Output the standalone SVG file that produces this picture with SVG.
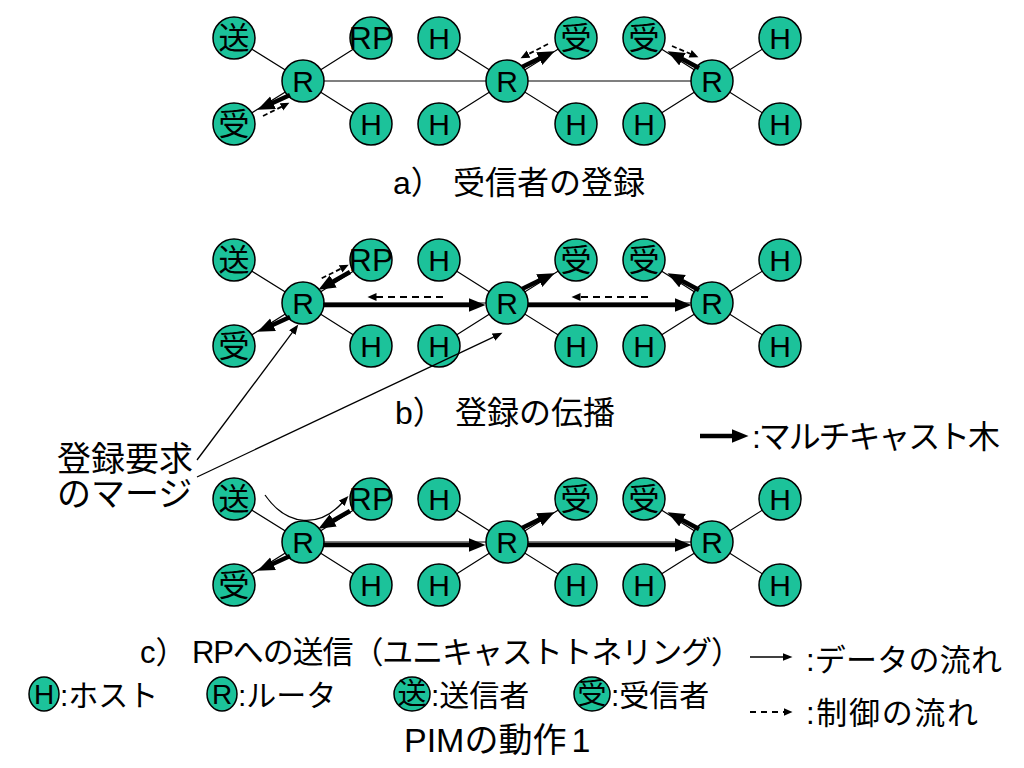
<svg xmlns="http://www.w3.org/2000/svg" width="1024" height="768" viewBox="0 0 1024 768">
<defs>
<style>
.n circle,.n ellipse{fill:#1cc29a;stroke:#000;stroke-width:1.5}
.lt{font-family:"Liberation Sans",Arial,sans-serif;font-size:30px;text-anchor:middle;fill:#000}
.jt{font-family:"Noto Sans CJK JP",sans-serif;font-size:31px;text-anchor:middle;fill:#000}
.lk{stroke:#000;stroke-width:1.2;fill:none}
.tk{stroke:#000;stroke-width:4.5;fill:none;marker-end:url(#hk)}
.ds{stroke:#000;stroke-width:1.8;fill:none;stroke-dasharray:7 5;marker-end:url(#hd)}
.dss{stroke:#000;stroke-width:1.8;fill:none;stroke-dasharray:5 3;marker-end:url(#hd)}
.an{stroke:#000;stroke-width:1.3;fill:none;marker-end:url(#ha)}
.tx{font-family:"Liberation Sans","Noto Sans CJK JP",sans-serif;font-size:32px;fill:#000}
.lg{font-family:"Liberation Sans","Noto Sans CJK JP",sans-serif;font-size:30px;fill:#000}
</style>
<marker id="hk" markerUnits="userSpaceOnUse" markerWidth="18" markerHeight="15" refX="3.5" refY="7" orient="auto"><path d="M0,0 L17,7 L0,14 z" fill="#000"/></marker>
<marker id="hd" markerUnits="userSpaceOnUse" markerWidth="10" markerHeight="9" refX="0.5" refY="4" orient="auto"><path d="M0,0 L9,4 L0,8 z" fill="#000"/></marker>
<marker id="ha" markerUnits="userSpaceOnUse" markerWidth="11" markerHeight="9" refX="0.5" refY="4" orient="auto"><path d="M0,0 L10,4 L0,8 z" fill="#000"/></marker>
</defs>
<rect width="1024" height="768" fill="#fff"/>

<!-- ROW A -->
<g id="row-a">
<g id="a-links">
<path class="lk" d="M234,38 L303,81 M234,124 L303,81 M371,38 L303,81 M371,124 L303,81 M303,81 L507,81 M439,38 L507,81 M439,124 L507,81 M576,38 L507,81 M576,124 L507,81 M507,81 L712,81 M644,38 L712,81 M644,124 L712,81 M780,38 L712,81 M780,124 L712,81"/>
</g>
<g id="a-snd" class="n" transform="translate(234,38)"><circle r="21"/><text class="jt" y="11">送</text></g>
<g id="a-rcv1" class="n" transform="translate(234,124)"><circle r="21"/><text class="jt" y="11">受</text></g>
<g id="a-r1" class="n" transform="translate(303,81)"><circle r="21"/><text class="lt" y="11">R</text></g>
<g id="a-rp" class="n" transform="translate(371,38)"><circle r="21"/><text class="lt" y="11" style="font-size:32px">RP</text></g>
<g id="a-h1" class="n" transform="translate(371,124)"><circle r="21"/><text class="lt" y="11">H</text></g>
<g id="a-h2" class="n" transform="translate(439,38)"><circle r="21"/><text class="lt" y="11">H</text></g>
<g id="a-h3" class="n" transform="translate(439,124)"><circle r="21"/><text class="lt" y="11">H</text></g>
<g id="a-r2" class="n" transform="translate(507,81)"><circle r="21"/><text class="lt" y="11">R</text></g>
<g id="a-rcv2" class="n" transform="translate(576,38)"><circle r="21"/><text class="jt" y="11">受</text></g>
<g id="a-h4" class="n" transform="translate(576,124)"><circle r="21"/><text class="lt" y="11">H</text></g>
<g id="a-rcv3" class="n" transform="translate(644,38)"><circle r="21"/><text class="jt" y="11">受</text></g>
<g id="a-h5" class="n" transform="translate(644,124)"><circle r="21"/><text class="lt" y="11">H</text></g>
<g id="a-r3" class="n" transform="translate(712,81)"><circle r="21"/><text class="lt" y="11">R</text></g>
<g id="a-h6" class="n" transform="translate(780,38)"><circle r="21"/><text class="lt" y="11">H</text></g>
<g id="a-h7" class="n" transform="translate(780,124)"><circle r="21"/><text class="lt" y="11">H</text></g>
<g id="a-arrows">
<path class="tk" d="M290,95 L269.8,104.2"/>
<path class="dss" d="M263,116 L281.8,106.6"/>
<path class="tk" d="M522,67 L542.4,57.1"/>
<path class="dss" d="M548,44 L528.1,54.3"/>
<path class="tk" d="M699,68 L679.4,57.6"/>
<path class="dss" d="M672,46 L690.6,53.9"/>
</g>
</g>
<text class="tx" y="194"><tspan x="393">a） </tspan><tspan x="453">受信者の登録</tspan></text>

<!-- ROW B -->
<g id="row-b" transform="translate(0,222)">
<g id="b-links">
<path class="lk" d="M234,38 L303,81 M234,124 L303,81 M371,38 L303,81 M371,124 L303,81 M303,81 L507,81 M439,38 L507,81 M439,124 L507,81 M576,38 L507,81 M576,124 L507,81 M507,81 L712,81 M644,38 L712,81 M644,124 L712,81 M780,38 L712,81 M780,124 L712,81"/>
</g>
<g id="b-snd" class="n" transform="translate(234,38)"><circle r="21"/><text class="jt" y="11">送</text></g>
<g id="b-rcv1" class="n" transform="translate(234,124)"><circle r="21"/><text class="jt" y="11">受</text></g>
<g id="b-r1" class="n" transform="translate(303,81)"><circle r="21"/><text class="lt" y="11">R</text></g>
<g id="b-rp" class="n" transform="translate(371,38)"><circle r="21"/><text class="lt" y="11" style="font-size:32px">RP</text></g>
<g id="b-h1" class="n" transform="translate(371,124)"><circle r="21"/><text class="lt" y="11">H</text></g>
<g id="b-h2" class="n" transform="translate(439,38)"><circle r="21"/><text class="lt" y="11">H</text></g>
<g id="b-h3" class="n" transform="translate(439,124)"><circle r="21"/><text class="lt" y="11">H</text></g>
<g id="b-r2" class="n" transform="translate(507,81)"><circle r="21"/><text class="lt" y="11">R</text></g>
<g id="b-rcv2" class="n" transform="translate(576,38)"><circle r="21"/><text class="jt" y="11">受</text></g>
<g id="b-h4" class="n" transform="translate(576,124)"><circle r="21"/><text class="lt" y="11">H</text></g>
<g id="b-rcv3" class="n" transform="translate(644,38)"><circle r="21"/><text class="jt" y="11">受</text></g>
<g id="b-h5" class="n" transform="translate(644,124)"><circle r="21"/><text class="lt" y="11">H</text></g>
<g id="b-r3" class="n" transform="translate(712,81)"><circle r="21"/><text class="lt" y="11">R</text></g>
<g id="b-h6" class="n" transform="translate(780,38)"><circle r="21"/><text class="lt" y="11">H</text></g>
<g id="b-h7" class="n" transform="translate(780,124)"><circle r="21"/><text class="lt" y="11">H</text></g>
<g id="b-arrows">
<path class="tk" d="M290,95 L269.8,104.2"/>
<path class="tk" d="M350,50 L330.2,61.1"/>
<path class="dss" d="M321.7,56.3 L341.1,46.6"/>
<path class="tk" d="M323,83 L472,83"/>
<path class="ds" d="M443,75 L376,75"/>
<path class="tk" d="M528,83 L678,83"/>
<path class="ds" d="M648,75 L580,75"/>
<path class="tk" d="M522,67 L542.4,57.1"/>
<path class="tk" d="M699,68 L679.4,57.6"/>
</g>
</g>
<text class="tx" y="424"><tspan x="395">b） </tspan><tspan x="455">登録の伝播</tspan></text>

<!-- ROW C -->
<g id="row-c" transform="translate(0,461)">
<g id="c-links">
<path class="lk" d="M234,38 L303,81 M234,124 L303,81 M371,38 L303,81 M371,124 L303,81 M303,81 L507,81 M439,38 L507,81 M439,124 L507,81 M576,38 L507,81 M576,124 L507,81 M507,81 L712,81 M644,38 L712,81 M644,124 L712,81 M780,38 L712,81 M780,124 L712,81"/>
</g>
<g id="c-snd" class="n" transform="translate(234,38)"><circle r="21"/><text class="jt" y="11">送</text></g>
<g id="c-rcv1" class="n" transform="translate(234,124)"><circle r="21"/><text class="jt" y="11">受</text></g>
<g id="c-r1" class="n" transform="translate(303,81)"><circle r="21"/><text class="lt" y="11">R</text></g>
<g id="c-rp" class="n" transform="translate(371,38)"><circle r="21"/><text class="lt" y="11" style="font-size:32px">RP</text></g>
<g id="c-h1" class="n" transform="translate(371,124)"><circle r="21"/><text class="lt" y="11">H</text></g>
<g id="c-h2" class="n" transform="translate(439,38)"><circle r="21"/><text class="lt" y="11">H</text></g>
<g id="c-h3" class="n" transform="translate(439,124)"><circle r="21"/><text class="lt" y="11">H</text></g>
<g id="c-r2" class="n" transform="translate(507,81)"><circle r="21"/><text class="lt" y="11">R</text></g>
<g id="c-rcv2" class="n" transform="translate(576,38)"><circle r="21"/><text class="jt" y="11">受</text></g>
<g id="c-h4" class="n" transform="translate(576,124)"><circle r="21"/><text class="lt" y="11">H</text></g>
<g id="c-rcv3" class="n" transform="translate(644,38)"><circle r="21"/><text class="jt" y="11">受</text></g>
<g id="c-h5" class="n" transform="translate(644,124)"><circle r="21"/><text class="lt" y="11">H</text></g>
<g id="c-r3" class="n" transform="translate(712,81)"><circle r="21"/><text class="lt" y="11">R</text></g>
<g id="c-h6" class="n" transform="translate(780,38)"><circle r="21"/><text class="lt" y="11">H</text></g>
<g id="c-h7" class="n" transform="translate(780,124)"><circle r="21"/><text class="lt" y="11">H</text></g>
<g id="c-arrows">
<path class="tk" d="M290,95 L269.8,104.2"/>
<path class="tk" d="M350,50 L330.2,61.1"/>
<path class="an" d="M265,34 C288,67 320,66 342,42"/>
<path class="tk" d="M323,84 L472,84"/>
<path class="tk" d="M528,84 L678,84"/>
<path class="tk" d="M522,67 L542.4,57.1"/>
<path class="tk" d="M699,68 L679.4,57.6"/>
</g>
</g>
<text class="tx" y="663" style="font-size:31px"><tspan x="140">c） </tspan><tspan x="192" textLength="550" lengthAdjust="spacing">RPへの送信（ユニキャストトネリング）</tspan></text>

<!-- annotation -->
<g id="merge-note">
<text class="tx" style="font-size:34px"><tspan x="57" y="471">登録要求</tspan><tspan x="57" y="506">のマージ</tspan></text>
</g>
<g id="note-arrows">
<path class="an" d="M197,460 L292.6,332.2"/>
<path class="an" d="M197,477 L493.9,336.8"/>
</g>

<!-- legend right -->
<g id="legend-right">
<path class="tk" d="M700,436 L735,436"/>
<text class="tx" x="752" y="448" textLength="248" lengthAdjust="spacing">:マルチキャスト木</text>
<path class="an" d="M750,657 L783,657" style="stroke-width:1.5"/>
<text class="tx" x="806" y="671" textLength="196" lengthAdjust="spacing" style="font-size:31px">:データの流れ</text>
<path class="ds" d="M750,712 L784,712" style="stroke-dasharray:6 5"/>
<text class="tx" x="806" y="724" textLength="172" lengthAdjust="spacing" style="font-size:31px">:制御の流れ</text>
</g>

<!-- legend bottom -->
<g id="legend-bottom">
<g id="lg-h" class="n" transform="translate(44,694)"><ellipse rx="15" ry="17"/><text class="lt" y="10" style="font-size:28px">H</text></g>
<text class="lg" x="60" y="706">:ホスト</text>
<g id="lg-r" class="n" transform="translate(222,694)"><ellipse rx="15" ry="17"/><text class="lt" y="10" style="font-size:28px">R</text></g>
<text class="lg" x="238" y="706">:ルータ</text>
<g id="lg-s" class="n" transform="translate(412,694)"><ellipse rx="18" ry="17"/><text class="jt" y="10" style="font-size:29px">送</text></g>
<text class="lg" x="431" y="706">:送信者</text>
<g id="lg-v" class="n" transform="translate(592,694)"><ellipse rx="18" ry="17"/><text class="jt" y="10" style="font-size:29px">受</text></g>
<text class="lg" x="611" y="706">:受信者</text>
</g>

<text class="tx" x="404" y="752" style="font-size:34px">PIMの動作<tspan dx="5">1</tspan></text>
</svg>
